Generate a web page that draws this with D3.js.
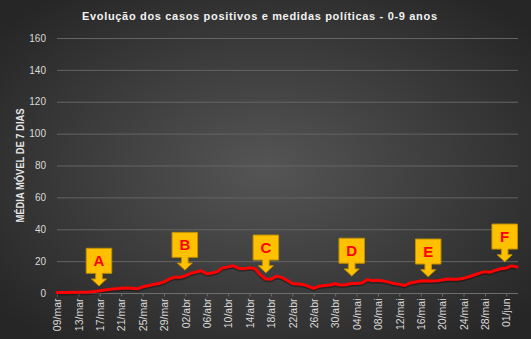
<!DOCTYPE html>
<html><head><meta charset="utf-8">
<script src="https://cdn.jsdelivr.net/npm/d3@7"></script>
<style>html,body{margin:0;padding:0;background:#3a3a3a;}svg{display:block;}</style>
</head><body>
<script>
// ---- data ----
const startDate = "2020-03-09";
const values = [0.3,0.3,0.3,0.4,0.4,0.5,0.6,0.9,1.4,1.9,2.3,2.6,3.0,3.1,3.0,2.6,3.9,4.6,5.3,6.0,
  7.0,8.7,10.0,9.8,10.8,12.4,13.2,14.0,12.0,12.6,13.4,15.9,16.4,17.1,15.4,15.3,15.9,15.3,11.5,8.8,
  8.7,10.5,9.8,8.0,6.0,5.7,5.4,4.2,2.9,4.3,4.7,5.0,5.8,5.0,5.2,6.0,6.0,6.3,8.4,7.7,
  8.0,7.6,6.8,6.0,5.4,4.7,6.3,6.9,7.5,7.7,7.5,7.7,8.2,8.8,8.7,8.6,9.3,10.2,11.3,12.5,
  13.4,13.0,14.3,15.2,15.7,17.0,16.3];
const yTicks = [0,20,40,60,80,100,120,140,160];
const monthNames = ["jan","fev","mar","abr","mai","jun","jul","ago","set","out","nov","dez"];
const calloutLabels = ["A","B","C","D","E","F"];
const calloutIndex = [7.85,23.9,39.05,55.1,69.4,83.7];
const calloutTipValue = [4.4,14.4,12.7,10.7,10.2,19.6];
const titleText = "Evolução dos casos positivos e medidas políticas - 0-9 anos";
const yTitle = "MÉDIA MÓVEL DE 7 DIAS";

// ---- setup ----
const W = 531, H = 339;
const svg = d3.select("body").append("svg").attr("width", W).attr("height", H);
const defs = svg.append("defs");
const rg = defs.append("radialGradient").attr("id","bg").attr("cx","50%").attr("cy","50%").attr("r","65%");
rg.append("stop").attr("offset","0%").attr("stop-color","#555555");
rg.append("stop").attr("offset","100%").attr("stop-color","#262626");
svg.append("rect").attr("width",W).attr("height",H).attr("fill","url(#bg)");

const t0 = new Date(startDate + "T00:00:00");
const dates = values.map((v,i)=> new Date(t0.getFullYear(), t0.getMonth(), t0.getDate()+i));
const x = d3.scaleLinear().domain([0, values.length-1]).range([57, 517]);
const y = d3.scaleLinear().domain([0,160]).range([293, 38]);
const fmt = d => String(d.getDate()).padStart(2,"0") + "/" + monthNames[d.getMonth()];

// gridlines
const grid = svg.append("g");
grid.selectAll("line").data(yTicks.filter(t=>t>0)).join("line")
  .attr("x1",57).attr("x2",518).attr("y1",d=>y(d)+0.5).attr("y2",d=>y(d)+0.5)
  .attr("stroke","#646464").attr("stroke-width",1);

// y axis labels
const yAxis = d3.axisLeft(y).tickValues(yTicks).tickSize(0).tickPadding(0);
const gy = svg.append("g").attr("transform","translate(46,0)").call(yAxis);
gy.select(".domain").remove();
gy.selectAll("text").attr("fill","#d9d9d9").style("font-family","Liberation Sans, Arial, sans-serif").style("font-size","10px");

// x axis
const tickIdx = d3.range(0, values.length, 4);
const xAxis = d3.axisBottom(x).tickValues(tickIdx).tickSize(3).tickFormat(i=>fmt(dates[i]));
const gx = svg.append("g").attr("transform","translate(0,293.5)").call(xAxis);
gx.select(".domain").attr("d","M57,0H518").attr("stroke","#6e6e6e");
gx.selectAll(".tick line").attr("stroke","#6e6e6e");
gx.selectAll("text").attr("fill","#d9d9d9").style("font-family","Liberation Sans, Arial, sans-serif").style("font-size","10.5px")
  .attr("transform","rotate(-90)").attr("text-anchor","end").attr("dy","0.35em").attr("y",0).attr("x",-5);

// line
const line = d3.line().x((d,i)=>x(i)).y(d=>y(d)).curve(d3.curveLinear);
svg.append("path").datum(values).attr("d",line).attr("fill","none")
  .attr("stroke","#000").attr("stroke-opacity",0.35).attr("stroke-width",3).attr("transform","translate(0,1.5)").attr("stroke-linejoin","round");
svg.append("path").datum(values).attr("d",line).attr("fill","none")
  .attr("stroke","#ff0000").attr("stroke-width",3).attr("stroke-linejoin","round").attr("stroke-linecap","round");

// callouts
const cg = svg.append("g");
calloutLabels.forEach((lab,k)=>{
  const cx = x(calloutIndex[k]);
  const tip = y(calloutTipValue[k]);
  const bw = 25.5, bh = 25, sw = 3.3, hw = 7.5;
  const bTop = tip - 12.7 - bh, bBot = tip - 12.7, hTop = tip - 7;
  const p = `M${cx-bw/2},${bTop}H${cx+bw/2}V${bBot}H${cx+sw}V${hTop}H${cx+hw}L${cx},${tip}L${cx-hw},${hTop}H${cx-sw}V${bBot}H${cx-bw/2}Z`;
  cg.append("path").attr("d",p).attr("fill","#ffc000").attr("stroke","#bf9000").attr("stroke-width",1).attr("stroke-linejoin","miter");
  cg.append("text").attr("x",cx).attr("y",bTop+bh/2).attr("dy","0.36em").attr("text-anchor","middle")
    .attr("fill","#ff0000").style("font-family","Liberation Sans, Arial, sans-serif").style("font-weight","bold").style("font-size","15px").text(lab);
});

// title
svg.append("text").attr("x",259.5).attr("y",20).attr("text-anchor","middle")
  .attr("fill","#f2f2f2").style("font-family","Liberation Sans, Arial, sans-serif").style("font-weight","bold").style("font-size","11px")
  .attr("textLength",355).attr("lengthAdjust","spacing").text(titleText);

// y title
svg.append("text").attr("transform","translate(23.5,165.5) rotate(-90)").attr("text-anchor","middle")
  .attr("fill","#e6e6e6").style("font-family","Liberation Sans, Arial, sans-serif").style("font-weight","bold").style("font-size","10px")
  .attr("textLength",114).attr("lengthAdjust","spacingAndGlyphs").text(yTitle);
</script>
</body></html>
